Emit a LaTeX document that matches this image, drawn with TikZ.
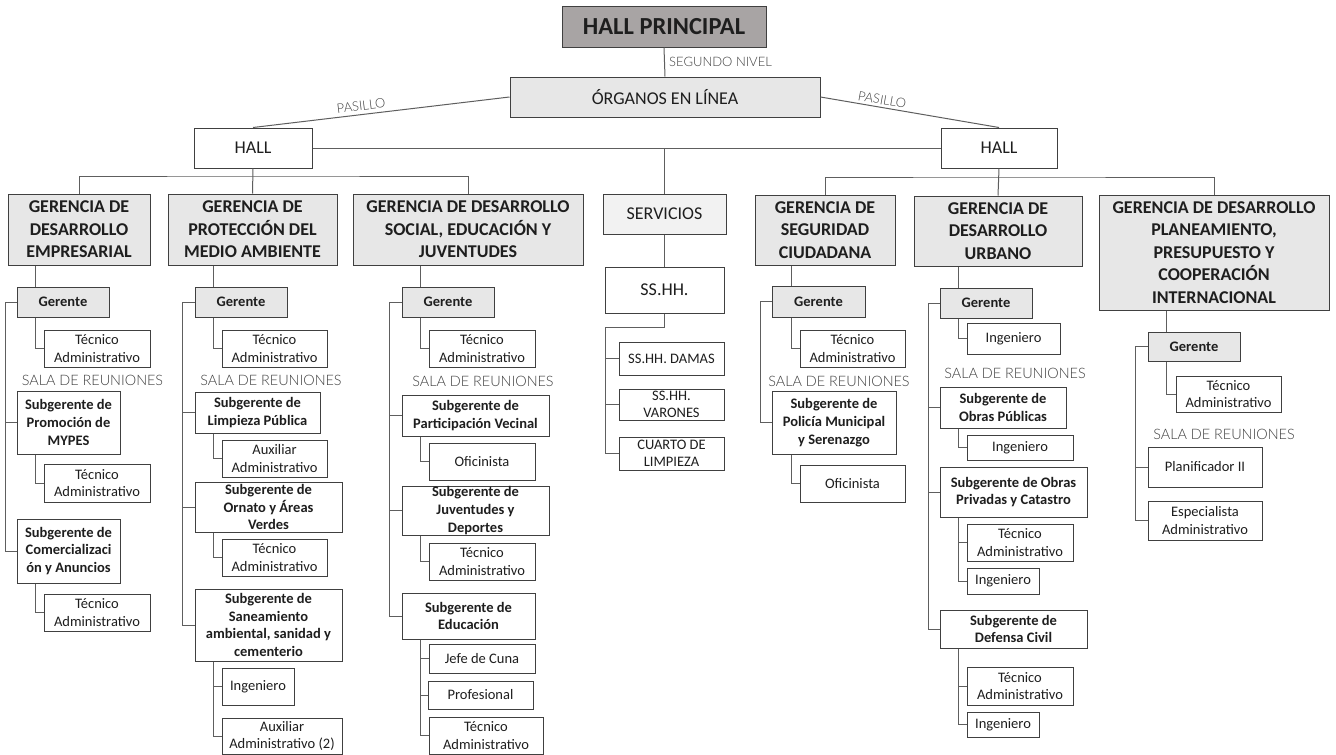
\documentclass[tikz,border=0pt]{standalone}
\usepackage{fontspec}
\setmainfont{Carlito}
\newfontfamily\lightf{Lato Light}
\usetikzlibrary{calc}
\definecolor{bord}{HTML}{404040}
\definecolor{conn}{HTML}{5E5E5E}
\definecolor{fillA}{HTML}{A8A4A4}
\definecolor{fillB}{HTML}{E7E7E7}
\definecolor{fillC}{HTML}{F2F2F2}
\definecolor{lbl}{HTML}{3F3F3F}
\definecolor{txt}{HTML}{1E1E1E}
\newcommand\mybox[7]{\node[#6, minimum width={#4-#2}, minimum height={#5-#3}] (#1) at ({(#2+#4)/2},{(#3+#5)/2}) {#7};}
\begin{document}
\begin{tikzpicture}[x=1pt,y=-1pt,
  box/.style={draw=bord, line width=1pt, inner sep=0pt, align=center, text=txt, font=\fontsize{14.5}{17.7}\selectfont},
  boxb/.style={box, font=\fontsize{14.5}{17.7}\selectfont\bfseries},
  ger/.style={boxb, fill=fillB},
  gerencia/.style={box, fill=fillB, font=\fontsize{18}{22.5}\selectfont\bfseries},
  big/.style={box, font=\fontsize{18}{22}\selectfont},
  sala/.style={text=lbl, inner sep=0pt, font=\lightf\fontsize{14.4}{16}\selectfont},
  lnk/.style={draw=conn, line width=1pt}]
\useasboundingbox[fill=white] (0,0) rectangle (1336,755);

% ---------- top ----------
\mybox{hp}{562}{6}{766}{47}{box, fill=fillA, font=\fontsize{24.5}{27}\selectfont\bfseries}{HALL PRINCIPAL}
\mybox{org}{510}{77}{820}{117}{big, fill=fillB}{ÓRGANOS EN LÍNEA}
\mybox{hl}{194}{128}{312}{168}{big}{HALL}
\mybox{hr}{941}{128}{1057}{168}{big}{HALL}

\mybox{G1}{8}{194}{150}{265}{gerencia}{GERENCIA DE\\DESARROLLO\\EMPRESARIAL}
\mybox{G2}{168}{194}{337}{265}{gerencia}{GERENCIA DE\\PROTECCIÓN DEL\\MEDIO AMBIENTE}
\mybox{G3}{353}{194}{583}{265}{gerencia}{GERENCIA DE DESARROLLO\\SOCIAL, EDUCACIÓN Y\\JUVENTUDES}
\mybox{SV}{603}{194}{726}{234}{big, fill=fillC}{SERVICIOS}
\mybox{G5}{755}{195}{895}{265}{gerencia}{GERENCIA DE\\SEGURIDAD\\CIUDADANA}
\mybox{G6}{914}{196}{1082}{266}{gerencia}{GERENCIA DE\\DESARROLLO\\URBANO}
\mybox{G7}{1099}{195}{1329}{310}{gerencia}{GERENCIA DE DESARROLLO\\PLANEAMIENTO,\\PRESUPUESTO Y\\COOPERACIÓN\\INTERNACIONAL}

\draw[lnk] (hp.south) -- (org.north);
\node[sala, anchor=west, font=\lightf\fontsize{13}{15}\selectfont] (seg) at (669,62) {SEGUNDO NIVEL};
\draw[lnk] (org.west) -- (hl.north);
\draw[lnk] (org.east) -- (hr.north);
\node[sala, rotate=7, font=\lightf\fontsize{13}{15}\selectfont] (pas1) at (361,106) {PASILLO};
\node[sala, rotate=-10, font=\lightf\fontsize{13}{15}\selectfont] (pas2) at (882,100) {PASILLO};
\draw[lnk] (hl.east) -- (hr.west);
\draw[lnk] (SV.north) -- (SV.north |- hl.east);
\coordinate (lb) at (253,176);
\coordinate (rb) at (999,177);
\draw[lnk] (G1.north) |- (lb) -| (G3.north);
\draw[lnk] (hl.south) -- (G2.north);
\draw[lnk] (G5.north) |- (rb) -| (G7.north);
\draw[lnk] (hr.south) -- (G6.north);

% ---------- column 1 ----------
\mybox{Ger1}{17}{287}{109}{317}{ger}{Gerente}
\mybox{T1a}{44}{330}{150}{367}{box}{Técnico\\Administrativo}
\node[sala] (sala1) at (92.5,380) {SALA DE REUNIONES};
\mybox{S1a}{17}{391}{120}{454}{boxb}{Subgerente de\\Promoción de\\MYPES}
\mybox{T1b}{44}{464}{150}{502}{box}{Técnico\\Administrativo}
\mybox{S1b}{17}{519}{120}{583}{boxb}{Subgerente de\\Comercializaci\\ón y Anuncios}
\mybox{T1c}{44}{594}{150}{631}{box}{Técnico\\Administrativo}
\coordinate (v1) at ([xshift=19pt]Ger1.north west);
\draw[lnk] (v1) -- (v1 |- G1.south);
\coordinate (tr1) at (5,0);
\draw[lnk] (Ger1.west) -| (tr1 |- S1b.west) -- (S1b.west);
\draw[lnk] (tr1 |- S1a.west) -- (S1a.west);
\draw[lnk] ([xshift=19pt]Ger1.south west) |- (T1a.west);
\draw[lnk] ([xshift=19pt]S1a.south west) |- (T1b.west);
\draw[lnk] ([xshift=19pt]S1b.south west) |- (T1c.west);

% ---------- column 2 ----------
\mybox{Ger2}{195}{287}{287}{317}{ger}{Gerente}
\mybox{T2a}{222}{330}{327}{367}{box}{Técnico\\Administrativo}
\node[sala] (sala2) at (271,380) {SALA DE REUNIONES};
\mybox{S2a}{195}{392}{320}{433}{boxb}{Subgerente de\\Limpieza Pública}
\mybox{A2a}{222}{440}{327}{477}{box}{Auxiliar\\Administrativo}
\mybox{S2b}{195}{482}{342}{532}{boxb}{Subgerente de\\Ornato y Áreas\\Verdes}
\mybox{T2b}{222}{539}{327}{576}{box}{Técnico\\Administrativo}
\mybox{S2c}{195}{589}{342}{661}{boxb}{Subgerente de\\Saneamiento\\ambiental, sanidad y\\cementerio}
\mybox{I2}{222}{668}{294}{705}{box}{Ingeniero}
\mybox{A2b}{222}{718}{342}{754}{box}{Auxiliar\\Administrativo (2)}
\coordinate (v2) at ([xshift=19pt]Ger2.north west);
\draw[lnk] (v2) -- (v2 |- G2.south);
\coordinate (tr2) at (182,0);
\draw[lnk] (Ger2.west) -| (tr2 |- S2c.west) -- (S2c.west);
\draw[lnk] (tr2 |- S2a.west) -- (S2a.west);
\draw[lnk] (tr2 |- S2b.west) -- (S2b.west);
\draw[lnk] ([xshift=19pt]Ger2.south west) |- (T2a.west);
\draw[lnk] ([xshift=19pt]S2a.south west) |- (A2a.west);
\draw[lnk] ([xshift=19pt]S2b.south west) |- (T2b.west);
\draw[lnk] ([xshift=19pt]S2c.south west) |- (I2.west);
\draw[lnk] ([xshift=19pt]S2c.south west) |- (A2b.west);

% ---------- column 3 ----------
\mybox{Ger3}{402}{287}{494}{317}{ger}{Gerente}
\mybox{T3a}{429}{330}{535}{367}{box}{Técnico\\Administrativo}
\node[sala] (sala3) at (483,381) {SALA DE REUNIONES};
\mybox{S3a}{402}{395}{549}{436}{boxb}{Subgerente de\\Participación Vecinal}
\mybox{O3}{429}{443}{535}{480}{box}{Oficinista}
\mybox{S3b}{402}{486}{549}{535}{boxb}{Subgerente de\\Juventudes y\\Deportes}
\mybox{T3b}{429}{543}{535}{580}{box}{Técnico\\Administrativo}
\mybox{S3c}{402}{593}{535}{639}{boxb}{Subgerente de\\Educación}
\mybox{J3}{429}{644}{535}{673}{box}{Jefe de Cuna}
\mybox{P3}{428}{681}{533}{709}{box}{Profesional}
\mybox{T3c}{429}{717}{543}{754}{box}{Técnico\\Administrativo}
\coordinate (v3) at ([xshift=19pt]Ger3.north west);
\draw[lnk] (v3) -- (v3 |- G3.south);
\coordinate (tr3) at (389,0);
\draw[lnk] (Ger3.west) -| (tr3 |- S3c.west) -- (S3c.west);
\draw[lnk] (tr3 |- S3a.west) -- (S3a.west);
\draw[lnk] (tr3 |- S3b.west) -- (S3b.west);
\draw[lnk] ([xshift=19pt]Ger3.south west) |- (T3a.west);
\draw[lnk] ([xshift=19pt]S3a.south west) |- (O3.west);
\draw[lnk] ([xshift=19pt]S3b.south west) |- (T3b.west);
\draw[lnk] ([xshift=19pt]S3c.south west) |- (J3.west);
\draw[lnk] ([xshift=19pt]S3c.south west) |- (P3.west);
\draw[lnk] ([xshift=19pt]S3c.south west) |- (T3c.west);

% ---------- column 4 ----------
\mybox{SS}{605}{267}{724}{313}{big}{SS.HH.}
\mybox{D4}{619}{342}{724}{375}{box}{SS.HH. DAMAS}
\mybox{V4}{619}{389}{724}{420}{box, font=\fontsize{14.5}{16.5}\selectfont}{SS.HH.\\VARONES}
\mybox{C4}{619}{437}{724}{470}{box, font=\fontsize{14.5}{16.5}\selectfont}{CUARTO DE\\LIMPIEZA}
\draw[lnk] (SV.south) -- (SS.north);
\coordinate (tr4) at (605,327);
\draw[lnk] (SS.south) |- (tr4) |- (C4.west);
\draw[lnk] (tr4 |- D4.west) -- (D4.west);
\draw[lnk] (tr4 |- V4.west) -- (V4.west);

% ---------- column 5 ----------
\mybox{Ger5}{772}{286}{865}{317}{ger}{Gerente}
\mybox{T5a}{800}{330}{905}{367}{box}{Técnico\\Administrativo}
\node[sala] (sala5) at (839,381) {SALA DE REUNIONES};
\mybox{S5a}{772}{391}{896}{454}{boxb}{Subgerente de\\Policía Municipal\\y Serenazgo}
\mybox{O5}{800}{465}{905}{502}{box}{Oficinista}
\coordinate (v5) at ([xshift=20pt]Ger5.north west);
\draw[lnk] (v5) -- (v5 |- G5.south);
\coordinate (tr5) at (760,0);
\draw[lnk] (Ger5.west) -| (tr5 |- S5a.west) -- (S5a.west);
\draw[lnk] ([xshift=20pt]Ger5.south west) |- (T5a.west);
\draw[lnk] ([xshift=20pt]S5a.south west) |- (O5.west);

% ---------- column 6 ----------
\mybox{Ger6}{940}{288}{1032}{318}{ger}{Gerente}
\mybox{I6a}{967}{323}{1060}{354}{box}{Ingeniero}
\node[sala] (sala6) at (1015,373) {SALA DE REUNIONES};
\mybox{S6a}{940}{387}{1066}{428}{boxb}{Subgerente de\\Obras Públicas}
\mybox{I6b}{967}{435}{1073}{460}{box}{Ingeniero}
\mybox{S6b}{940}{467}{1087}{517}{boxb}{Subgerente de Obras\\Privadas y Catastro}
\mybox{T6b}{967}{524}{1073}{561}{box}{Técnico\\Administrativo}
\mybox{I6c}{967}{568}{1039}{594}{box}{Ingeniero}
\mybox{S6c}{940}{610}{1087}{648}{boxb}{Subgerente de\\Defensa Civil}
\mybox{T6c}{967}{667}{1073}{705}{box}{Técnico\\Administrativo}
\mybox{I6d}{967}{712}{1039}{737}{box}{Ingeniero}
\coordinate (v6) at ([xshift=19pt]Ger6.north west);
\draw[lnk] (v6) -- (v6 |- G6.south);
\coordinate (tr6) at (928,0);
\draw[lnk] (Ger6.west) -| (tr6 |- S6c.west) -- (S6c.west);
\draw[lnk] (tr6 |- S6a.west) -- (S6a.west);
\draw[lnk] (tr6 |- S6b.west) -- (S6b.west);
\draw[lnk] ([xshift=19pt]Ger6.south west) |- (I6a.west);
\draw[lnk] ([xshift=19pt]S6a.south west) |- (I6b.west);
\draw[lnk] ([xshift=19pt]S6b.south west) |- (T6b.west);
\draw[lnk] ([xshift=19pt]S6b.south west) |- (I6c.west);
\draw[lnk] ([xshift=19pt]S6c.south west) |- (T6c.west);
\draw[lnk] ([xshift=19pt]S6c.south west) |- (I6d.west);

% ---------- column 7 ----------
\mybox{Ger7}{1148}{332}{1240}{361}{ger}{Gerente}
\mybox{T7}{1176}{376}{1281}{412}{box}{Técnico\\Administrativo}
\node[sala] (sala7) at (1224,434) {SALA DE REUNIONES};
\mybox{P7}{1148}{447}{1262}{487}{box}{Planificador II}
\mybox{E7}{1148}{501}{1262}{540}{box}{Especialista\\Administrativo}
\coordinate (v7) at ([xshift=19pt]Ger7.north west);
\draw[lnk] (v7) -- (v7 |- G7.south);
\coordinate (tr7) at (1135,0);
\draw[lnk] (Ger7.west) -| (tr7 |- E7.west) -- (E7.west);
\draw[lnk] (tr7 |- P7.west) -- (P7.west);
\draw[lnk] ([xshift=19pt]Ger7.south west) |- (T7.west);
\end{tikzpicture}
\end{document}
